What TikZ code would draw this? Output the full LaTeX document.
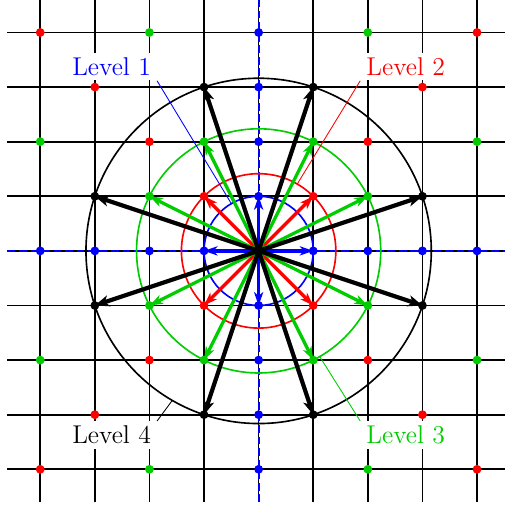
\documentclass[tikz,border=0pt]{standalone}
\usetikzlibrary{arrows.meta}
\definecolor{lvgreen}{RGB}{0,204,0}
\begin{document}
\begin{tikzpicture}[
  gridline/.style={line width=0.9pt},
  axisdash/.style={blue, line width=1pt, dash pattern=on 4pt off 2pt},
  ring/.style={line width=0.85pt},
  vec/.style={line width=1.7pt, -{Stealth[length=7pt,width=4.8pt,inset=2pt]}},
  bigvec/.style={line width=2.2pt, -{Stealth[length=7.5pt,width=5.8pt,inset=2pt]}},
  lbl/.style={fill=white, inner xsep=3pt, inner ysep=2.5pt, font=\fontsize{13.4}{16}\selectfont},
  pinline/.style={line width=0.45pt}
]
\useasboundingbox (-4.737,-4.709) rectangle (4.494,4.595);
% grid
\draw[gridline] (-4.6,-4.6) grid (4.6,4.6);
\draw[axisdash] (-4.6,0) -- (4.6,0);
\draw[axisdash] (0,-4.6) -- (0,4.6);
\coordinate (O) at (0,0);
% circles
\draw[ring, blue] (O) circle (1);
\draw[ring, red] (O) circle ({sqrt(2)});
\draw[ring, lvgreen] (O) circle ({sqrt(5)});
\draw[ring, black] (O) circle ({sqrt(10)});
% end points
\foreach \x/\y [count=\i] in {1/0,0/1,-1/0,0/-1} \coordinate (B\i) at (\x,\y);
\foreach \x/\y [count=\i] in {1/1,-1/1,-1/-1,1/-1} \coordinate (R\i) at (\x,\y);
\foreach \x/\y [count=\i] in {2/1,1/2,-1/2,-2/1,-2/-1,-1/-2,1/-2,2/-1} \coordinate (G\i) at (\x,\y);
\foreach \x/\y [count=\i] in {3/1,1/3,-1/3,-3/1,-3/-1,-1/-3,1/-3,3/-1} \coordinate (K\i) at (\x,\y);
% arrows
\foreach \i in {1,...,4} \draw[vec, blue] (O) -- (B\i);
\foreach \i in {1,...,4} \draw[vec, red] (O) -- (R\i);
\foreach \i in {1,...,8} \draw[vec, lvgreen] (O) -- (G\i);
\foreach \i in {1,...,8} \draw[bigvec, black] (O) -- (K\i);
% dots
\def\dr{2.3pt}
\foreach \k in {-4,-3,-2,-1,1,2,3,4} {
  \fill[blue] (\k,0) circle (\dr);
  \fill[blue] (0,\k) circle (\dr);
  \fill[red] (\k,\k) circle (\dr);
  \fill[red] (\k,-\k) circle (\dr);
}
\foreach \x/\y in {1/2,2/1,2/4,4/2} {
  \fill[lvgreen] (\x,\y) circle (\dr);
  \fill[lvgreen] (-\x,\y) circle (\dr);
  \fill[lvgreen] (\x,-\y) circle (\dr);
  \fill[lvgreen] (-\x,-\y) circle (\dr);
}
\foreach \x/\y in {1/3,3/1} {
  \fill[black] (\x,\y) circle (\dr);
  \fill[black] (-\x,\y) circle (\dr);
  \fill[black] (\x,-\y) circle (\dr);
  \fill[black] (-\x,-\y) circle (\dr);
}
% labels
\coordinate (P1) at (120:1);
\coordinate (P2) at (60:{sqrt(2)});
\coordinate (P3) at (-60:{sqrt(5)});
\coordinate (P4) at (-120:{sqrt(10)});
\node[lbl, text=blue, anchor=south east] (L1) at (-1.86,3.115) {Level 1};
\node[lbl, text=red, anchor=south west] (L2) at (1.86,3.115) {Level 2};
\node[lbl, text=lvgreen, anchor=north west] (L3) at (1.86,-3.115) {Level 3};
\node[lbl, text=black, anchor=north east] (L4) at (-1.86,-3.115) {Level 4};
\draw[pinline, blue] (P1) -- (L1.south east);
\draw[pinline, red] (P2) -- (L2.south west);
\draw[pinline, lvgreen] (P3) -- (L3.north west);
\draw[pinline, black] (P4) -- (L4.north east);
\end{tikzpicture}
\end{document}
